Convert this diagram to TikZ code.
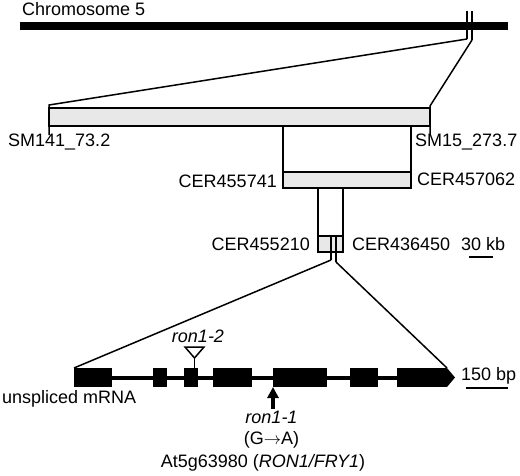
\documentclass[tikz,border=0pt]{standalone}
\usepackage{fontspec}
\setmainfont{Liberation Sans}
\usetikzlibrary{arrows.meta, calc}
\definecolor{boxcol}{gray}{0.91}
\tikzset{
  chrom bar/.style={rectangle, fill=black, inner sep=0pt, outer sep=0pt},
  region box/.style={rectangle, draw, fill=boxcol, line width=1.5pt,
                     inner sep=0pt, outer sep=0pt},
  exon/.style={rectangle, fill=black, inner sep=0pt, outer sep=0pt,
               minimum height=19pt},
  lbl/.style={font=\fontsize{18}{18}\selectfont, inner sep=0pt},
  zoom line/.style={line width=1.5pt},
  scale bar/.style={line width=2pt},
  mut arr/.style={-{Triangle[width=11pt, length=11pt]}, line width=3.6pt},
}

\begin{document}
\begin{tikzpicture}[x=1pt, y=-1pt]
    \useasboundingbox (0,0) rectangle (520,475);

    % chromosome
    \node[chrom bar, minimum width=488pt, minimum height=8pt] (chrom) at (264,26) {};
    \node[lbl, anchor=base west] (chrom_lbl) at (22,15) {Chromosome 5};
    \coordinate (tick_l) at (467,11);
    \coordinate (tick_r) at (472,11);
    \coordinate (tick_l_end) at (467,39);
    \coordinate (tick_r_end) at (472,40);
    \draw[zoom line] (tick_l) -- (tick_l_end);
    \draw[zoom line] (tick_r) -- (tick_r_end);

    % mapping interval
    \node[region box, minimum width=381pt, minimum height=18pt] (bac) at (239.5,117) {};
    \coordinate (bac_l_top) at (49,105);
    \coordinate (bac_r_top) at (430,106);
    \coordinate (bac_l_bot) at (49,135);
    \coordinate (bac_r_bot) at (430,135);
    \draw[zoom line] (tick_l_end) -- (bac_l_top) -- (bac_l_bot);
    \draw[zoom line] (tick_r_end) -- (bac_r_top) -- (bac_r_bot);
    \node[lbl, anchor=base west] (sm141) at (8,146) {SM141\_73.2};
    \node[lbl, anchor=base west] (sm15) at (415,146) {SM15\_273.7};

    % first refinement
    \node[region box, minimum width=128pt, minimum height=16pt] (cer1) at (347,180) {};
    \draw[zoom line] (cer1.north west |- bac.south) -- (cer1.north west);
    \draw[zoom line] (cer1.north east |- bac.south) -- (cer1.north east);
    \node[lbl, anchor=base east] (cer455741) at (277,187) {CER455741};
    \node[lbl, anchor=base west] (cer457062) at (417,185) {CER457062};

    % second refinement
    \node[region box, minimum width=25pt, minimum height=16pt] (cer2) at (330.5,244) {};
    \draw[zoom line] (cer2.north west |- cer1.south) -- (cer2.north west);
    \draw[zoom line] (cer2.north east |- cer1.south) -- (cer2.north east);
    \node[lbl, anchor=base east] (cer455210) at (310,250) {CER455210};
    \node[lbl, anchor=base west] (cer436450) at (352,250) {CER436450};
    \node[lbl, anchor=base west] (kb_lbl) at (461,250) {30 kb};
    \coordinate (kb_a) at (469,257);
    \coordinate (kb_b) at (493,257);
    \draw[scale bar] (kb_a) -- (kb_b);

    % gene position
    \coordinate (gene_l_top) at (331,236);
    \coordinate (gene_r_top) at (336,236);
    \coordinate (gene_l_mid) at (331,260);
    \coordinate (gene_r_mid) at (336,262);
    \draw[zoom line] (gene_l_top) -- (gene_l_mid);
    \draw[zoom line] (gene_r_top) -- (gene_r_mid);

    % gene model
    \node[exon, minimum width=38pt] (ex1) at (93,377.5) {};
    \node[exon, minimum width=14pt] (ex2) at (160,377.5) {};
    \node[exon, minimum width=14pt] (ex3) at (190.5,377.5) {};
    \node[exon, minimum width=39pt] (ex4) at (232.5,377.5) {};
    \node[exon, minimum width=54pt] (ex5) at (300,377.5) {};
    \node[exon, minimum width=28pt] (ex6) at (364,377.5) {};
    \node[exon, minimum width=50pt] (ex7) at (422,377.5) {};
    \coordinate (ex7_tip) at (455,377.5);
    \fill (ex7.north east) -- (ex7_tip) -- (ex7.south east) -- cycle;
    \draw[line width=4pt] (ex1.east) -- (ex7.west);
    \draw[zoom line] (gene_l_mid) -- (ex1.north west);
    \draw[zoom line] (gene_r_mid) -- (ex7.north east);
    \node[lbl, anchor=base west] (mrna_lbl) at (2,403) {unspliced mRNA};
    \node[lbl, anchor=base west] (bp_lbl) at (461,380) {150 bp};
    \coordinate (bp_a) at (466,388);
    \coordinate (bp_b) at (508,388);
    \draw[scale bar] (bp_a) -- (bp_b);

    % insertion allele
    \coordinate (ins_apex) at (194.5,358);
    \coordinate (ins_l) at (185,347);
    \coordinate (ins_r) at (204,347);
    \draw[zoom line, fill=white] (ins_l) -- (ins_r) -- (ins_apex) -- cycle;
    \draw[zoom line] (ins_apex) -- (ins_apex |- ex3.north);
    \node[lbl, anchor=base] (ron12) at (198,342) {\itshape ron1-2};

    % point mutation
    \coordinate (pm_tail) at (273,409);
    \draw[mut arr] (pm_tail) -- (ex5.south west);
    \node[lbl, font=\fontsize{18}{21}\selectfont, align=center, anchor=north] (ron11) at (271.5,411)
        {\textit{ron1-1}\\(G$\rightarrow$A)};
    \node[lbl, anchor=base] (gene_lbl) at (263,467) {At5g63980 (\textit{RON1/FRY1})};
\end{tikzpicture}
\end{document}
